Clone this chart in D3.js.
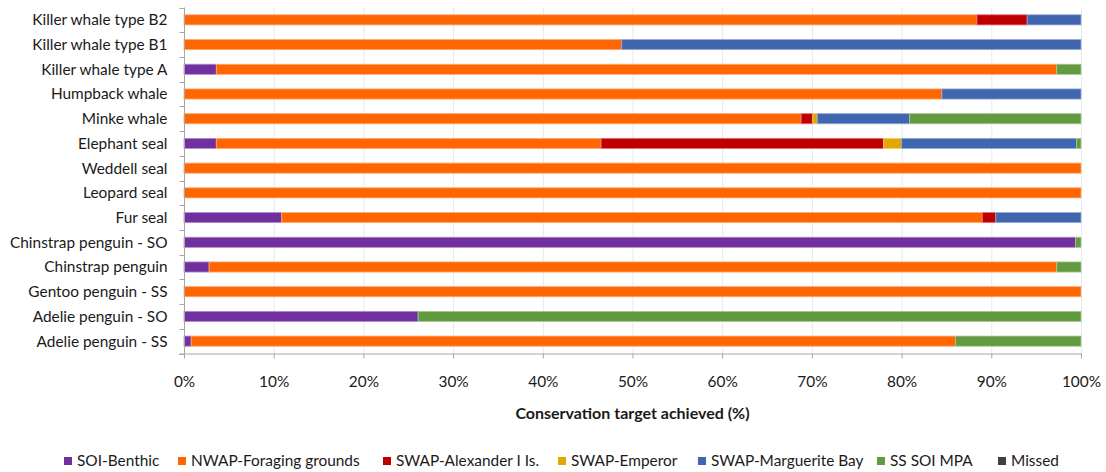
<!DOCTYPE html>
<html>
<head>
<meta charset="utf-8">
<script src="https://cdn.jsdelivr.net/npm/d3@7/dist/d3.min.js"></script>
<style>
  html, body { margin: 0; padding: 0; background: #ffffff; }
  svg { display: block; }
  text { font-family: Lato, "Open Sans", sans-serif; fill: #1a1a1a; }
</style>
</head>
<body>
<svg id="chart" width="1106" height="472"></svg>
<script>
// Species / populations, listed top to bottom
const categories = [
  "Killer whale type B2",
  "Killer whale type B1",
  "Killer whale type A",
  "Humpback whale",
  "Minke whale",
  "Elephant seal",
  "Weddell seal",
  "Leopard seal",
  "Fur seal",
  "Chinstrap penguin - SO",
  "Chinstrap penguin",
  "Gentoo penguin - SS",
  "Adelie penguin - SO",
  "Adelie penguin - SS"
];

const seriesNames = [
  "SOI-Benthic",
  "NWAP-Foraging grounds",
  "SWAP-Alexander I Is.",
  "SWAP-Emperor",
  "SWAP-Marguerite Bay",
  "SS SOI MPA",
  "Missed"
];

// Share of the conservation target achieved in each area (%)
const soiBenthic     = [0, 0, 3.6, 0, 0, 3.6, 0, 0, 10.9, 99.4, 2.8, 0, 26.1, 0.8];
const nwapForaging   = [88.4, 48.8, 93.7, 84.5, 68.8, 42.9, 100, 100, 78.1, 0, 94.5, 100, 0, 85.2];
const swapAlexander  = [5.6, 0, 0, 0, 1.3, 31.5, 0, 0, 1.5, 0, 0, 0, 0, 0];
const swapEmperor    = [0, 0, 0, 0, 0.5, 2.0, 0, 0, 0, 0, 0, 0, 0, 0];
const swapMarguerite = [6.0, 51.2, 0, 15.5, 10.3, 19.5, 0, 0, 9.5, 0, 0, 0, 0, 0];
const ssSoiMpa       = [0, 0, 2.7, 0, 19.1, 0.5, 0, 0, 0, 0.6, 2.7, 0, 73.9, 14.0];
const missed         = [0, 0, 0, 0, 0, 0, 0, 0, 0, 0, 0, 0, 0, 0];

const xTickValues = [0, 10, 20, 30, 40, 50, 60, 70, 80, 90, 100];
const xTitle = "Conservation target achieved (%)";

const seriesColors = ["#7030a0", "#ff6600", "#c00000", "#e0a800", "#3f66ae", "#629a3f", "#404040"];

// Table built from the arrays above for d3.stack
const seriesValues = [soiBenthic, nwapForaging, swapAlexander, swapEmperor, swapMarguerite, ssSoiMpa, missed];
const rows = categories.map((c, i) => {
  const r = { category: c };
  seriesNames.forEach((s, j) => { r[s] = seriesValues[j][i]; });
  return r;
});

const svg = d3.select("#chart");
const plot = { left: 184, right: 1081, top: 7.5, bottom: 353.5 };
const fontSize = "15.4px";

const x = d3.scaleLinear().domain([0, 100]).range([plot.left, plot.right]);
const y = d3.scaleBand().domain(categories).range([plot.top, plot.bottom]).paddingInner(0.59).paddingOuter(0.295);
const color = d3.scaleOrdinal().domain(seriesNames).range(seriesColors);

// Vertical gridlines
svg.append("g")
  .selectAll("line")
  .data(xTickValues.slice(1))
  .join("line")
  .attr("x1", d => x(d) + 0.5).attr("x2", d => x(d) + 0.5)
  .attr("y1", plot.top).attr("y2", plot.bottom)
  .attr("stroke", "#e3e9f2").attr("stroke-width", 1);

// Stacked bars
const stacked = d3.stack().keys(seriesNames)(rows);
svg.append("g")
  .selectAll("g")
  .data(stacked)
  .join("g")
  .attr("fill", d => color(d.key))
  .attr("stroke", d => d3.interpolateRgb(color(d.key), "#ffffff")(0.45))
  .attr("stroke-width", 0.8)
  .selectAll("rect")
  .data(d => d.filter(p => p[1] - p[0] > 0))
  .join("rect")
  .attr("x", p => x(p[0]))
  .attr("width", p => x(p[1]) - x(p[0]))
  .attr("y", p => y(p.data.category))
  .attr("height", y.bandwidth());

// Category axis: ticks sit on the band boundaries
const yAxisG = svg.append("g").attr("transform", `translate(${plot.left + 0.5},0)`);
yAxisG.append("line")
  .attr("x1", 0).attr("x2", 0).attr("y1", plot.top).attr("y2", plot.bottom)
  .attr("stroke", "#a6a6a6");
const bounds = d3.range(categories.length + 1).map(i => plot.top + i * (plot.bottom - plot.top) / categories.length);
yAxisG.selectAll("line.tick")
  .data(bounds)
  .join("line")
  .attr("class", "tick")
  .attr("x1", -5).attr("x2", 0)
  .attr("y1", d => Math.round(d) + 0.5).attr("y2", d => Math.round(d) + 0.5)
  .attr("stroke", "#a6a6a6");
yAxisG.selectAll("text")
  .data(categories)
  .join("text")
  .attr("x", -17)
  .attr("y", d => y(d) + y.bandwidth() / 2)
  .attr("dy", "0.35em")
  .attr("text-anchor", "end")
  .style("font-size", fontSize)
  .text(d => d);

// Value axis
const xAxis = d3.axisBottom(x)
  .tickValues(xTickValues)
  .tickFormat(d => d + "%")
  .tickSize(5)
  .tickSizeOuter(0)
  .tickPadding(18);
const xAxisG = svg.append("g")
  .attr("transform", `translate(0,${Math.round(plot.bottom) - 0.5})`)
  .call(xAxis);
xAxisG.select(".domain").attr("stroke", "#a6a6a6").attr("d", `M${plot.left - 5},0.5H${plot.right + 1}`);
xAxisG.selectAll(".tick line").attr("stroke", "#a6a6a6");
xAxisG.selectAll(".tick text")
  .style("font-family", "Lato, 'Open Sans', sans-serif")
  .style("font-size", fontSize)
  .attr("fill", "#1a1a1a");

svg.append("text")
  .attr("x", (plot.left + plot.right) / 2)
  .attr("y", 419)
  .attr("text-anchor", "middle")
  .style("font-size", "16px")
  .style("font-weight", "bold")
  .text(xTitle);

// Legend
const legendX = [64, 178, 383, 558, 698, 877, 998];
const legend = svg.append("g").attr("transform", "translate(0,461)");
const items = legend.selectAll("g")
  .data(seriesNames)
  .join("g")
  .attr("transform", (d, i) => `translate(${legendX[i]},0)`);
items.append("rect")
  .attr("x", 0).attr("y", -4)
  .attr("width", 8).attr("height", 8)
  .attr("fill", d => color(d));
items.append("text")
  .attr("x", 13)
  .attr("dy", "0.35em")
  .style("font-size", fontSize)
  .text(d => d);
</script>
</body>
</html>
